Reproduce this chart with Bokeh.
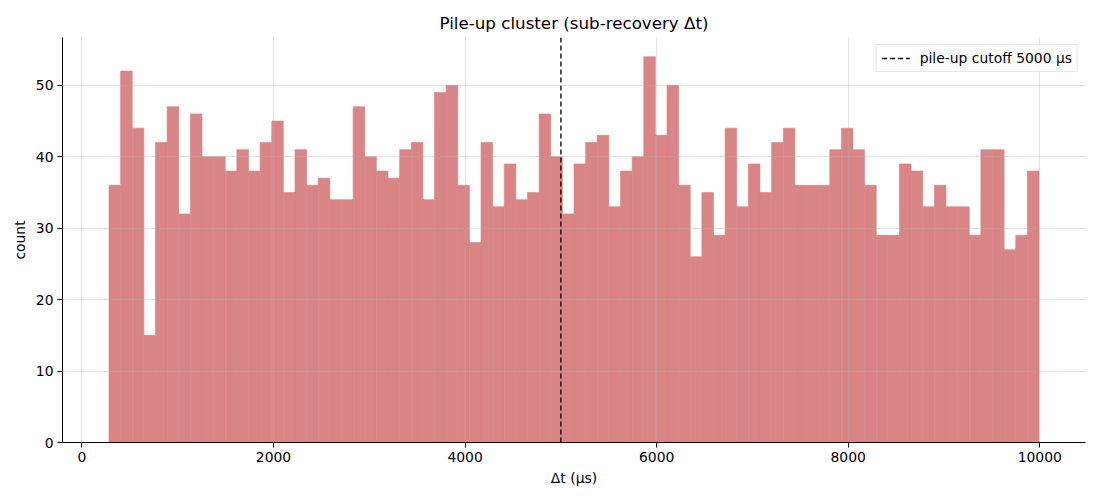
import numpy as np
from bokeh.plotting import figure
from bokeh.models import Range1d, FixedTicker, Legend, LegendItem, ColumnDataSource
from bokeh.embed import file_html
from bokeh.resources import INLINE

# ---- data ----
counts = [36, 52, 44, 15, 42, 47, 32, 46, 40, 40,
          38, 41, 38, 42, 45, 35, 41, 36, 37, 34,
          34, 47, 40, 38, 37, 41, 42, 34, 49, 50,
          36, 28, 42, 33, 39, 34, 35, 46, 40, 32,
          39, 42, 43, 33, 38, 40, 54, 43, 50, 36,
          26, 35, 29, 44, 33, 39, 35, 42, 44, 36,
          36, 36, 41, 44, 41, 36, 29, 29, 39, 38,
          33, 36, 33, 33, 29, 41, 41, 27, 29, 38]
dt_min = 282.0      # smallest Δt (µs)
dt_max = 9992.0     # largest Δt (µs)
cutoff = 5000       # pile-up cutoff (µs)
x_ticks = [0, 2000, 4000, 6000, 8000, 10000]
y_ticks = [0, 10, 20, 30, 40, 50]

title = "Pile-up cluster (sub-recovery Δt)"
x_label = "Δt (µs)"
y_label = "count"
legend_label = f"pile-up cutoff {cutoff} µs"

edges = np.linspace(dt_min, dt_max, len(counts) + 1)
src = ColumnDataSource(dict(left=edges[:-1], right=edges[1:], top=counts,
                            bottom=[0] * len(counts)))

span_x = dt_max - dt_min
x_lo, x_hi = dt_min - 0.05 * span_x, dt_max + 0.05 * span_x
y_hi = max(counts) * 1.05

FONT = "DejaVu Sans"
BAR = "#d98585"   # indianred at 75% over white

p = figure(width=1100, height=500, output_backend="svg", toolbar_location=None,
           x_range=Range1d(x_lo, x_hi), y_range=Range1d(0, y_hi),
           min_border_left=62, min_border_right=15, min_border_top=37,
           min_border_bottom=58)

p.quad(left="left", right="right", top="top", bottom="bottom", source=src,
       fill_color=BAR, fill_alpha=1.0, line_color=BAR, line_width=0.6)

# vertical cutoff line spanning the full y range
vline = p.line(x=[cutoff, cutoff], y=[0, y_hi], line_color="black",
               line_width=1.3, line_dash="5 3")

legend = Legend(items=[LegendItem(label=legend_label, renderers=[vline])],
                location="top_right", margin=7, padding=5, spacing=0,
                label_height=14, glyph_height=14, glyph_width=28,
                label_standoff=10,
                label_text_font=FONT, label_text_font_size="13.9px",
                label_text_color="black",
                border_line_color="#cccccc", border_line_width=1,
                background_fill_alpha=0.8)
p.add_layout(legend)

p.title.text = title
p.title.text_font = FONT
p.title.text_font_size = "16.7px"
p.title.text_font_style = "normal"
p.title.align = "center"
p.title.text_color = "black"

p.outline_line_color = None
for ax in (p.xaxis[0], p.yaxis[0]):
    ax.axis_line_color = "black"
    ax.axis_line_width = 1
    ax.major_tick_line_color = "black"
    ax.major_tick_out = 5
    ax.major_tick_in = 0
    ax.minor_tick_line_color = None
    ax.major_label_text_font = FONT
    ax.major_label_text_font_size = "13.9px"
    ax.major_label_text_color = "black"
    ax.axis_label_text_font = FONT
    ax.axis_label_text_font_size = "13.9px"
    ax.axis_label_text_font_style = "normal"
    ax.axis_label_text_color = "black"

p.xaxis.ticker = FixedTicker(ticks=x_ticks)
p.yaxis.ticker = FixedTicker(ticks=y_ticks)
p.xaxis.axis_label = x_label
p.yaxis.axis_label = y_label
p.xaxis.major_label_standoff = 4
p.yaxis.major_label_standoff = 4

for g in (p.xgrid[0], p.ygrid[0]):
    g.grid_line_color = "#b0b0b0"
    g.grid_line_alpha = 0.35
    g.grid_line_width = 1
    g.level = "guide"

open("out.html", "w").write(file_html(p, INLINE))
